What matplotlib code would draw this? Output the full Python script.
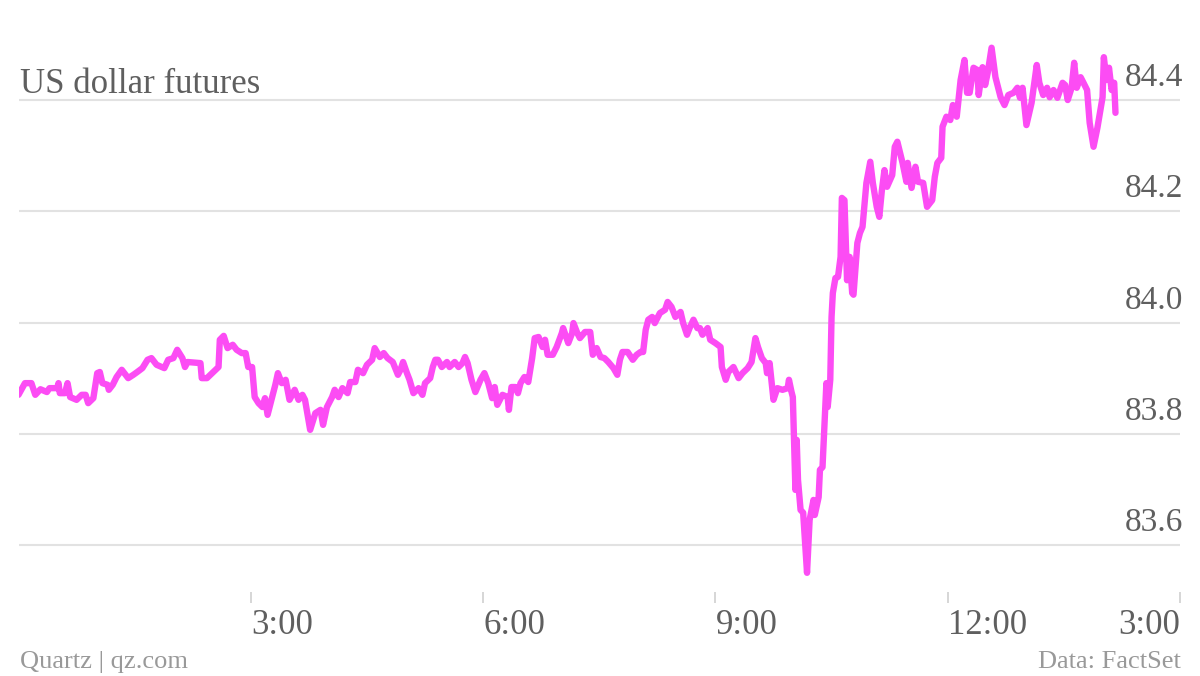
import matplotlib
matplotlib.use("Agg")
import matplotlib.pyplot as plt
from matplotlib.transforms import blended_transform_factory

# Minutes since midnight and price of US dollar futures
minutes = [
    0, 5, 10, 13, 17, 22, 24, 30, 31, 32, 36, 38, 40, 45, 49, 52, 54, 58, 61, 63,
    65, 69, 70, 73, 76, 80, 85, 89, 92, 96, 100, 103, 107, 113, 116, 120, 123, 127, 129, 131,
    141, 142, 146, 151, 155, 156, 159, 162, 166, 169, 173, 176, 178, 181, 183, 186, 189, 191, 193, 196,
    199, 201, 204, 207, 210, 214, 217, 220, 222, 226, 230, 234, 236, 239, 243, 245, 248, 251, 255, 257,
    261, 263, 267, 270, 274, 276, 280, 283, 286, 290, 294, 296, 298, 301, 303, 306, 310, 313, 315, 319,
    321, 323, 325, 328, 332, 334, 338, 341, 344, 346, 348, 351, 354, 358, 361, 364, 367, 369, 371, 375,
    379, 380, 382, 385, 387, 389, 392, 395, 398, 400, 403, 406, 408, 410, 414, 417, 421, 422, 426, 429,
    430, 433, 435, 439, 443, 445, 448, 451, 454, 457, 461, 464, 466, 468, 472, 476, 479, 482, 484, 486,
    488, 491, 493, 497, 501, 503, 506, 509, 513, 515, 518, 520, 523, 526, 528, 530, 534, 536, 540, 544,
    545, 548, 550, 554, 558, 561, 565, 568, 571, 573, 576, 579, 580, 582, 585, 588, 592, 596, 597, 599,
    600, 601, 602, 603, 604, 606, 608, 611, 613, 616, 617, 620, 621, 623, 626, 627, 629,
    630, 631, 633, 635, 637, 638, 640, 642, 644, 646, 647, 650, 652, 654, 657, 660, 662, 665, 667,
    669, 671, 673, 677, 679, 681, 685, 688, 689, 692, 695, 697, 701, 704, 708, 710, 712, 715, 716, 719,
    722, 724, 727, 730, 733, 735, 737, 740, 743, 744, 747, 749, 751, 754, 757, 761, 764, 767, 771, 774,
    776, 778, 781, 785, 789, 791, 794, 797, 799, 802, 805, 809, 811, 813, 816, 818, 820, 823, 825, 828,
    830, 833, 836, 840, 841, 843, 845, 847, 849, 850,
]
prices = [
    83.870, 83.891, 83.891, 83.870, 83.880, 83.875, 83.882, 83.882, 83.891, 83.873,
    83.873, 83.891, 83.866, 83.861, 83.870, 83.870, 83.855, 83.864, 83.909, 83.911,
    83.891, 83.888, 83.879, 83.888, 83.902, 83.915, 83.900, 83.906, 83.911, 83.918,
    83.933, 83.936, 83.924, 83.918, 83.933, 83.936, 83.951, 83.936, 83.920, 83.929,
    83.927, 83.900, 83.900, 83.911, 83.920, 83.969, 83.976, 83.954, 83.960, 83.951,
    83.945, 83.945, 83.920, 83.920, 83.866, 83.855, 83.848, 83.864, 83.834, 83.861,
    83.888, 83.909, 83.891, 83.897, 83.861, 83.879, 83.861, 83.870, 83.861, 83.807,
    83.837, 83.843, 83.816, 83.848, 83.866, 83.879, 83.866, 83.882, 83.873, 83.893,
    83.893, 83.915, 83.909, 83.924, 83.933, 83.954, 83.938, 83.945, 83.936, 83.929,
    83.906, 83.915, 83.929, 83.909, 83.897, 83.873, 83.882, 83.870, 83.891, 83.900,
    83.920, 83.933, 83.933, 83.920, 83.929, 83.920, 83.929, 83.920, 83.927, 83.938,
    83.927, 83.897, 83.875, 83.897, 83.909, 83.891, 83.864, 83.884, 83.852, 83.870,
    83.866, 83.843, 83.884, 83.884, 83.873, 83.891, 83.902, 83.893, 83.936, 83.972,
    83.974, 83.956, 83.969, 83.942, 83.942, 83.956, 83.981, 83.990, 83.963, 83.981,
    83.999, 83.981, 83.972, 83.983, 83.983, 83.942, 83.954, 83.938, 83.936, 83.929,
    83.918, 83.906, 83.933, 83.947, 83.947, 83.933, 83.942, 83.947, 83.947, 83.987,
    84.005, 84.010, 83.999, 84.017, 84.023, 84.037, 84.028, 84.010, 84.019, 83.999,
    83.978, 83.990, 84.005, 83.990, 83.990, 83.978, 83.990, 83.969, 83.963, 83.956,
    83.920, 83.897, 83.911, 83.920, 83.900, 83.909, 83.918, 83.929, 83.972, 83.956,
    83.936, 83.927, 83.909, 83.927, 83.861, 83.882, 83.879, 83.882, 83.897, 83.875,
    83.866, 83.783, 83.699, 83.789, 83.717, 83.663, 83.658, 83.550, 83.645, 83.681,
    83.654, 83.686, 83.735, 83.740, 83.891, 83.848, 83.897,
    84.010, 84.053, 84.080, 84.082, 84.118, 84.224, 84.220, 84.076, 84.118, 84.053,
    84.050, 84.143, 84.161, 84.172, 84.251, 84.289, 84.251, 84.208, 84.190,
    84.238, 84.274, 84.244, 84.265, 84.316, 84.325, 84.287, 84.253, 84.287, 84.242,
    84.280, 84.253, 84.251, 84.208, 84.220, 84.262, 84.287, 84.296, 84.352, 84.370,
    84.364, 84.391, 84.370, 84.436, 84.472, 84.413, 84.413, 84.458, 84.454, 84.409,
    84.459, 84.427, 84.449, 84.494, 84.441, 84.405, 84.391, 84.409, 84.413, 84.422,
    84.404, 84.422, 84.355, 84.395, 84.463, 84.431, 84.409, 84.422, 84.405, 84.418,
    84.404, 84.431, 84.427, 84.400, 84.422, 84.467, 84.422, 84.441, 84.432, 84.418,
    84.359, 84.316, 84.350, 84.405, 84.477, 84.436, 84.458, 84.418, 84.431, 84.377,
]

y_ticks = [83.6, 83.8, 84.0, 84.2, 84.4]
y_tick_labels = ["83.6", "83.8", "84.0", "84.2", "84.4"]
x_ticks = [180, 360, 540, 720, 900]
x_tick_labels = ["3:00", "6:00", "9:00", "12:00", "3:00"]

title = "US dollar futures"
credit = "Quartz | qz.com"
source = "Data: FactSet"

FONT = "Liberation Serif"
LINE_COLOR = "#fc4cf4"
GRID_COLOR = "#e2e2e2"
TEXT_COLOR = "#5f5f5f"
FOOT_COLOR = "#999999"

W, H = 1200, 676
fig = plt.figure(figsize=(W / 100, H / 100), dpi=100)
fig.patch.set_facecolor("white")

left_px, right_px, top_px, bottom_px = 18.5, 1180, 30, 592
ax = fig.add_axes([left_px / W, 1 - bottom_px / H,
                   (right_px - left_px) / W, (bottom_px - top_px) / H])
ax.set_facecolor("white")

ax.plot(minutes, prices, color=LINE_COLOR, lw=4.6,
        solid_joinstyle="round", solid_capstyle="round", zorder=3)

ax.set_xlim(0, 900)
ax.set_ylim(83.5155, 84.5259)

for s in ax.spines.values():
    s.set_visible(False)

ax.set_yticks(y_ticks)
ax.tick_params(axis="y", length=0, labelleft=False, labelright=False)
ax.yaxis.grid(True, color=GRID_COLOR, lw=1.5)
ax.set_axisbelow(True)

ax.set_xticks(x_ticks)
ax.set_xticklabels([])
ax.tick_params(axis="x", direction="out", length=8, width=1.2, color="#d0d0d0")

# y labels sitting above gridlines, right aligned
ytrans = blended_transform_factory(ax.transAxes, ax.transData)
for v, lab in zip(y_ticks, y_tick_labels):
    ax.annotate(lab, xy=(1.0, v), xycoords=ytrans, xytext=(2, 5),
                textcoords="offset points", ha="right", va="bottom",
                fontsize=24, family=FONT, color=TEXT_COLOR)

# x labels: left aligned at tick, last one right aligned
xtrans = blended_transform_factory(ax.transData, ax.transAxes)
for i, (t, lab) in enumerate(zip(x_ticks, x_tick_labels)):
    ha = "right" if i == len(x_ticks) - 1 else "left"
    ax.annotate(lab, xy=(t, 0), xycoords=xtrans, xytext=(0, -12),
                textcoords="offset points", ha=ha, va="top",
                fontsize=25, family=FONT, color=TEXT_COLOR)

fig.text(20 / W, 1 - 93 / H, title, ha="left", va="baseline",
         fontsize=25, family=FONT, color=TEXT_COLOR)
fig.text(20 / W, 1 - 668 / H, credit, ha="left", va="baseline",
         fontsize=19, family=FONT, color=FOOT_COLOR)
fig.text(1181 / W, 1 - 668 / H, source, ha="right", va="baseline",
         fontsize=19, family=FONT, color=FOOT_COLOR)

fig.savefig("out.png", dpi=100, facecolor="white")
